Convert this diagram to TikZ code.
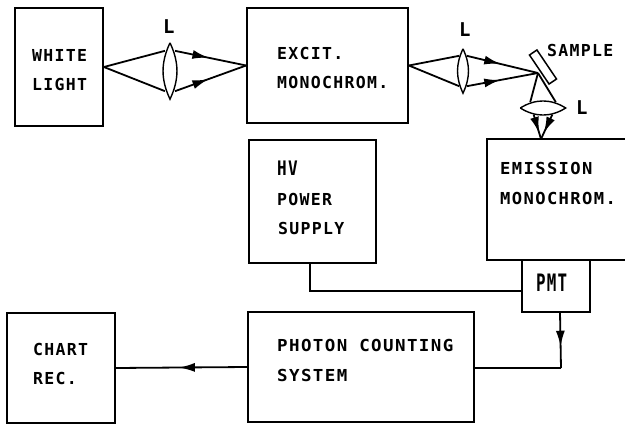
\documentclass[tikz,border=0pt]{standalone}
\usepackage{fontspec}
\setmainfont[LetterSpace=8]{DejaVu Sans Mono}
\usetikzlibrary{shapes.geometric,decorations.markings,arrows.meta}
\tikzset{
  every node/.style={font=\fontsize{16.5}{16.5}\selectfont\bfseries},
  blockbox/.style={draw,line width=1.8pt,rectangle,inner sep=0pt},
  lens/.style={ellipse,inner sep=0pt},
  lensline/.style={line width=1.4pt,bend left=#1},
  textlbl/.style={inner sep=0pt,anchor=west},
  tallA/.style={textlbl,font=\fontsize{20}{20}\selectfont\bfseries,xscale=.8},
  tallB/.style={textlbl,font=\fontsize{24}{24}\selectfont\bfseries,xscale=.66},
  lenslbl/.style={textlbl,font=\fontsize{19}{19}\selectfont\bfseries},
  wire/.style={line width=1.8pt},
  midarrow/.style={wire,postaction={decorate},decoration={markings,
    mark=at position #1 with {\arrow{Latex[length=16pt,width=9pt]}}}}
}
\begin{document}
\begin{tikzpicture}[x=1pt,y=-1pt]
\useasboundingbox (0,0) rectangle (625,429);

\node[blockbox,minimum width=88pt,minimum height=118pt] (white) at (59,67) {};
\node[blockbox,minimum width=161pt,minimum height=115pt] (excit) at (327.5,65.5) {};
\node[blockbox,minimum width=127pt,minimum height=123pt] (hv) at (312.5,201.5) {};
\node[blockbox,minimum width=160pt,minimum height=121pt] (emission) at (567,199.5) {};
\node[blockbox,minimum width=68pt,minimum height=52pt] (pmt) at (556,286) {};
\node[blockbox,minimum width=226pt,minimum height=110pt] (photon) at (361,367) {};
\node[blockbox,minimum width=108pt,minimum height=110pt] (chart) at (61,368) {};

\node[textlbl] (whitetxt) at (32,55) {WHITE};
\node[textlbl] (lighttxt) at (32,84) {LIGHT};
\node[textlbl] (excittxt) at (277,53) {EXCIT.};
\node[textlbl] (monotxt) at (277,82) {MONOCHROM.};
\node[tallA] (hvtxt) at (277,168) {HV};
\node[textlbl] (powertxt) at (277,199) {POWER};
\node[textlbl] (supplytxt) at (278,228) {SUPPLY};
\node[textlbl,xscale=1.04] (emisstxt) at (500,168) {EMISSION};
\node[textlbl,xscale=1.04] (mono2txt) at (500,198) {MONOCHROM.};
\node[tallB] (pmttxt) at (536,283) {PMT};
\node[textlbl,xscale=1.06] (photontxt) at (277,345) {PHOTON COUNTING};
\node[textlbl,xscale=1.06] (systemtxt) at (277,375) {SYSTEM};
\node[textlbl] (charttxt) at (33,349) {CHART};
\node[textlbl] (rectxt) at (33,378) {REC.};
\node[textlbl] (sampletxt) at (547,50) {SAMPLE};
\node[lenslbl] (l1txt) at (163,27) {L};
\node[lenslbl] (l2txt) at (459,30) {L};
\node[lenslbl] (l3txt) at (576,108) {L};

\node[lens,minimum width=14pt,minimum height=56pt] (lensa) at (170,71) {};
\node[lens,minimum width=10pt,minimum height=44pt] (lensb) at (463,71) {};
\node[lens,minimum width=45pt,minimum height=14pt] (lensc) at (543,108) {};
\node[draw,line width=1.5pt,minimum width=35pt,minimum height=9pt,inner sep=0pt,rotate=-56] (sample) at (543,67) {};
\coordinate (focus) at (538,73);
\coordinate (emissionin) at (541,139);
\coordinate (hvout) at (310,263);
\coordinate (pmtin) at (522,291);
\coordinate (photonturn) at (561,368);
\coordinate (pmtout) at (560,312);

\draw[lensline=25] (lensa.north) to (lensa.south) to (lensa.north);
\draw[lensline=25] (lensb.north) to (lensb.south) to (lensb.north);
\draw[lensline=32] (lensc.west) to (lensc.east) to (lensc.west);
\draw[wire] (white.east) -- (lensa.104);
\draw[wire] (white.east) -- (lensa.256);
\draw[midarrow=.47] (lensa.76) -- (excit.west);
\draw[midarrow=.47] (lensa.284) -- (excit.west);
\draw[wire] (excit.east) -- (lensb.104);
\draw[wire] (excit.east) -- (lensb.256);
\draw[midarrow=.47] (lensb.76) -- (focus);
\draw[midarrow=.47] (lensb.284) -- (focus);
\draw[wire] (focus) -- (lensc.155);
\draw[wire] (focus) -- (lensc.25);
\draw[midarrow=.75] (lensc.215) -- (emissionin);
\draw[midarrow=.75] (lensc.325) -- (emissionin);
\draw[wire] (hvout) |- (pmtin);
\draw[midarrow=.62] (pmtout) -- (photonturn);
\draw[wire] (photonturn) -- (photon.east |- photonturn);
\draw[midarrow=.52] (photon.west) -- (chart.east);

\end{tikzpicture}
\end{document}
